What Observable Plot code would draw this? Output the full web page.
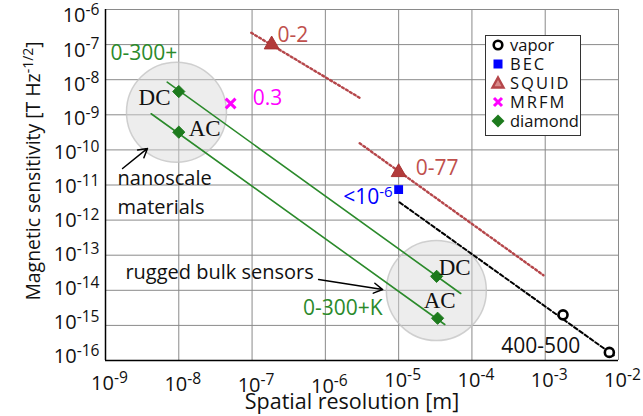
<!DOCTYPE html>
<html><head><meta charset="utf-8">
<script src="https://cdn.jsdelivr.net/npm/d3@7"></script>
<script src="https://cdn.jsdelivr.net/npm/@observablehq/plot@0.6"></script>
<style>
body{margin:0;background:#fff;}
#wrap{position:relative;width:643px;height:416px;font-family:"Open Sans",sans-serif;}
#legend{position:absolute;left:485px;top:35px;width:94px;height:99px;border:1.5px solid #333;background:#fff;box-sizing:content-box;}
#legend .row{display:flex;align-items:center;height:18.8px;font-size:16.5px;color:#111;line-height:18px;}
#legend svg{margin-left:3px;margin-right:3px;flex:none;}
</style></head><body><div id="wrap"></div>
<script>
// ---- axes ----
const xTickValues = [1e-9,1e-8,1e-7,1e-6,1e-5,1e-4,1e-3,1e-2];
const xTickLabels = ["10^{-9}","10^{-8}","10^{-7}","10^{-6}","10^{-5}","10^{-4}","10^{-3}","10^{-2}"];
const yTickValues = [1e-16,1e-15,1e-14,1e-13,1e-12,1e-11,1e-10,1e-9,1e-8,1e-7,1e-6];
const yTickLabels = ["10^{-16}","10^{-15}","10^{-14}","10^{-13}","10^{-12}","10^{-11}","10^{-10}","10^{-9}","10^{-8}","10^{-7}","10^{-6}"];
const xTitle = "Spatial resolution [m]";
const yTitle = "Magnetic sensitivity [T Hz^{-1/2}]";

// ---- sensor points ----
const vaporX = [1.75e-3, 7.5e-3],  vaporY = [2.0e-15, 1.7e-16];
const becX = [1.0e-5],             becY = [7.4e-12];
const squidX = [1.85e-7, 1.0e-5],  squidY = [1.0e-7, 2.3e-11];
const mrfmX = [5.1e-8],            mrfmY = [2.1e-9];
const diamondX = [1.0e-8, 1.0e-8, 3.3e-5, 3.4e-5];
const diamondY = [4.6e-9, 3.2e-10, 2.5e-14, 1.6e-15];

// ---- trend lines ----
const vaporTrendX = [1.03e-5, 8.6e-3],   vaporTrendY = [3.2e-12, 1.4e-16];
const squidTrend1X = [9.75e-8, 2.94e-6], squidTrend1Y = [2.17e-7, 3.05e-9];
const squidTrend2X = [2.94e-6, 9.46e-4], squidTrend2Y = [1.55e-10, 2.69e-14];
const dcTrendX = [6.95e-9, 7.03e-5],     dcTrendY = [8.5e-9, 8.1e-15];
const acTrendX = [4.2e-9, 4.26e-5],      acTrendY = [1.07e-9, 1.06e-15];

// ---- shaded regions ----
const regionX = [9.3e-9, 3.27e-5], regionY = [1.19e-9, 9.86e-15];

// ---- annotations ----
const modeText = ["DC","AC","DC","AC"];
const modeX = [4.67e-9, 2.25e-8, 5.82e-5, 3.63e-5];
const modeY = [3.11e-9, 4.07e-10, 4.47e-14, 5.12e-15];
const noteText = ["nanoscale","materials","rugged bulk sensors"];
const noteX = [1.46e-9, 1.46e-9, 1.87e-9];
const noteY = [1.53e-11, 2.29e-12, 3.21e-14];
const arrowX1 = [1.71e-9, 8.09e-7], arrowY1 = [2.95e-11, 2.03e-14];
const arrowX2 = [3.74e-9, 6.05e-6], arrowY2 = [1.10e-10, 1.05e-14];
const tempDiamondText = ["0-300+"], tempDiamondX = [1.17e-9], tempDiamondY = [5.6e-8];
const tempDiamondKText = ["0-300+K"], tempDiamondKX = [6.05e-6], tempDiamondKY = [3.03e-15];
const tempMrfmText = ["0.3"], tempMrfmX = [1.02e-7], tempMrfmY = [2.91e-9];
const tempSquidText = ["0-2","0-77"], tempSquidX = [2.23e-7, 1.71e-5], tempSquidY = [1.82e-7, 2.95e-11];
const tempBecText = ["<10^{-6}"], tempBecX = [8.3e-6], tempBecY = [4.4e-12];
const tempVaporText = ["400-500"], tempVaporX = [8.69e-4], tempVaporY = [2.55e-16];

const legendNames = ["vapor","BEC","SQUID","MRFM","diamond"];

const GREEN = "#2b8a2b", DGREEN = "#1d7a1d", BROWN = "#b5464a", BROWNT = "#c0504d", BLUE = "#0000ff", MAG = "#ff00ff";
const TICK_FS = 20;

const pts = (X, Y) => X.map((x, i) => ({x, y: Y[i]}));
const txt = (T, X, Y) => T.map((t, i) => ({t, x: X[i], y: Y[i]}));

const plot = Plot.plot({
  width: 643, height: 416,
  marginLeft: 105, marginRight: 25, marginTop: 9, marginBottom: 56,
  style: {fontFamily: "'Open Sans', sans-serif", background: "white", overflow: "visible"},
  x: {type: "log", domain: [1e-9, 1e-2]},
  y: {type: "log", domain: [1e-16, 1e-6]},
  marks: [
    Plot.gridX(xTickValues, {stroke: "#8a8a8a", strokeOpacity: 1, strokeWidth: 1}),
    Plot.gridY(yTickValues, {stroke: "#8a8a8a", strokeOpacity: 1, strokeWidth: 1}),
    Plot.ruleX([1e-9], {stroke: "#000", strokeWidth: 1.5}),
    Plot.ruleY([1e-16], {stroke: "#000", strokeWidth: 1.5}),
    Plot.axisX(xTickValues, {tickSize: 0, tickPadding: 12, dx: 4, label: null, fill: "#111", fontSize: TICK_FS,
      tickFormat: d => xTickLabels[xTickValues.indexOf(d)]}),
    Plot.axisY(yTickValues, {tickSize: 0, tickPadding: 6, label: null, fill: "#111", fontSize: TICK_FS,
      tickFormat: d => yTickLabels[yTickValues.indexOf(d)]}),
    Plot.text([xTitle], {frameAnchor: "bottom", dx: -10, dy: 48, fontSize: 21.5, fill: "#111"}),
    Plot.text([yTitle], {frameAnchor: "left", textAnchor: "middle", rotate: -90, dx: -72, dy: -14, fontSize: 19.4, fill: "#111"}),
    // shaded regions
    Plot.dot(pts(regionX, regionY), {x: "x", y: "y", r: 50, fill: "#d6d6d6", fillOpacity: 0.45, stroke: "#c4c4c4", strokeOpacity: 0.8, strokeWidth: 1.5}),
    // trend lines
    Plot.line(pts(dcTrendX, dcTrendY), {x: "x", y: "y", stroke: GREEN, strokeWidth: 1.6}),
    Plot.line(pts(acTrendX, acTrendY), {x: "x", y: "y", stroke: GREEN, strokeWidth: 1.6}),
    Plot.line(pts(squidTrend1X, squidTrend1Y), {x: "x", y: "y", stroke: BROWN, strokeWidth: 2.4, strokeDasharray: "2,2.6"}),
    Plot.line(pts(squidTrend2X, squidTrend2Y), {x: "x", y: "y", stroke: BROWN, strokeWidth: 2.4, strokeDasharray: "2,2.6"}),
    Plot.line(pts(vaporTrendX, vaporTrendY), {x: "x", y: "y", stroke: "#000", strokeWidth: 2, strokeDasharray: "4,2.5"}),
    // arrows
    Plot.arrow(arrowX1.map((x, i) => ({x1: x, y1: arrowY1[i], x2: arrowX2[i], y2: arrowY2[i]})),
      {x1: "x1", y1: "y1", x2: "x2", y2: "y2", stroke: "#000", strokeWidth: 1.5, headLength: 10}),
    // markers
    Plot.dot(pts(vaporX, vaporY), {x: "x", y: "y", r: 4.5, fill: "white", stroke: "#000", strokeWidth: 2.6}),
    Plot.dot(pts(becX, becY), {x: "x", y: "y", symbol: "square", r: 5, fill: BLUE}),
    Plot.dot(pts(squidX, squidY), {x: "x", y: "y", symbol: "triangle", r: 5.5, fill: "#b23b3b", stroke: "#a83232", strokeWidth: 1}),
    Plot.dot(pts(mrfmX, mrfmY), {x: "x", y: "y", symbol: "times", r: 4.5, stroke: MAG, strokeWidth: 3}),
    Plot.dot(pts(diamondX, diamondY), {x: "x", y: "y", symbol: "diamond2", r: 5.5, fill: DGREEN, stroke: DGREEN, strokeWidth: 1}),
    // annotations
    Plot.text(txt(modeText, modeX, modeY), {x: "x", y: "y", text: "t", fontFamily: "'Liberation Serif', serif", fontSize: 23, fill: "#111"}),
    Plot.text(txt(noteText, noteX, noteY), {x: "x", y: "y", text: "t", textAnchor: "start", fontSize: 20, fill: "#111"}),
    Plot.text(txt(tempDiamondText, tempDiamondX, tempDiamondY), {x: "x", y: "y", text: "t", textAnchor: "start", fontSize: 21, fill: GREEN}),
    Plot.text(txt(tempDiamondKText, tempDiamondKX, tempDiamondKY), {x: "x", y: "y", text: "t", textAnchor: "end", fontSize: 21, fill: GREEN}),
    Plot.text(txt(tempMrfmText, tempMrfmX, tempMrfmY), {x: "x", y: "y", text: "t", textAnchor: "start", fontSize: 21, fill: MAG}),
    Plot.text(txt(tempSquidText, tempSquidX, tempSquidY), {x: "x", y: "y", text: "t", textAnchor: "start", fontSize: 21, fill: BROWNT}),
    Plot.text(txt(tempBecText, tempBecX, tempBecY), {x: "x", y: "y", text: "t", textAnchor: "end", fontSize: 21, fill: BLUE}),
    Plot.text(txt(tempVaporText, tempVaporX, tempVaporY), {x: "x", y: "y", text: "t", fontSize: 21, fill: "#111"})
  ]
});

const wrap = document.getElementById("wrap");
wrap.appendChild(plot);

// tick label texts
const tickTexts = new Set();
d3.select(plot).selectAll("g").each(function () {
  const a = this.getAttribute("aria-label") || "";
  if (/axis/.test(a) && /tick/.test(a)) d3.select(this).selectAll("text").each(function () { tickTexts.add(this); });
});

// superscripts: "a^{b}c" -> a<tspan sup>b</tspan>c
function fontSizeOf(node) {
  for (let n = node; n && n.nodeType === 1; n = n.parentNode) {
    if (n.style && n.style.fontSize) return parseFloat(n.style.fontSize);
    const a = n.getAttribute && n.getAttribute("font-size");
    if (a) return parseFloat(a);
  }
  return 10;
}
d3.select(plot).selectAll("text").each(function () {
  const s = this.textContent;
  const m = s.match(/^(.*?)\^\{([^}]*)\}(.*)$/);
  if (!m) return;
  const fs = fontSizeOf(this);
  const isTick = tickTexts.has(this);
  // y tick labels in the reference sit on a slightly compressed ladder (top label lower, bottom label higher)
  const yi = yTickLabels.indexOf(s);
  const shift = isTick && yi >= 0 ? -3.5 + 1.0 * yi : 0;
  const el = d3.select(this);
  el.text(null);
  el.append("tspan").attr("dy", shift).text(m[1]);
  el.append("tspan").attr("dy", -0.36 * fs).style("font-size", ((isTick ? 0.78 : 0.72) * fs) + "px").text(m[2]);
  if (m[3]) el.append("tspan").attr("dy", 0.36 * fs).text(m[3]);
});

// legend
const sym = {
  vapor: '<circle cx="9" cy="9" r="4.3" fill="white" stroke="#000" stroke-width="2.6"/>',
  BEC: '<rect x="4.5" y="4.5" width="9" height="9" fill="' + BLUE + '"/>',
  SQUID: '<path d="M9,3.5 L14.5,13.5 L3.5,13.5 Z" fill="#d88a8a" stroke="' + BROWN + '" stroke-width="2.4" stroke-linejoin="miter"/>',
  MRFM: '<path d="M5,5 L13,13 M13,5 L5,13" stroke="' + MAG + '" stroke-width="3"/>',
  diamond: '<path d="M9,2.5 L15.5,9 L9,15.5 L2.5,9 Z" fill="' + DGREEN + '"/>'
};
const legend = document.createElement("div");
legend.id = "legend";
legend.innerHTML = legendNames.map(n =>
  `<div class="row"><svg width="18" height="18">${sym[n]}</svg><span style="letter-spacing:${n === n.toUpperCase() ? 2 : 0}px">${n}</span></div>`
).join("");
wrap.appendChild(legend);
</script></body></html>
